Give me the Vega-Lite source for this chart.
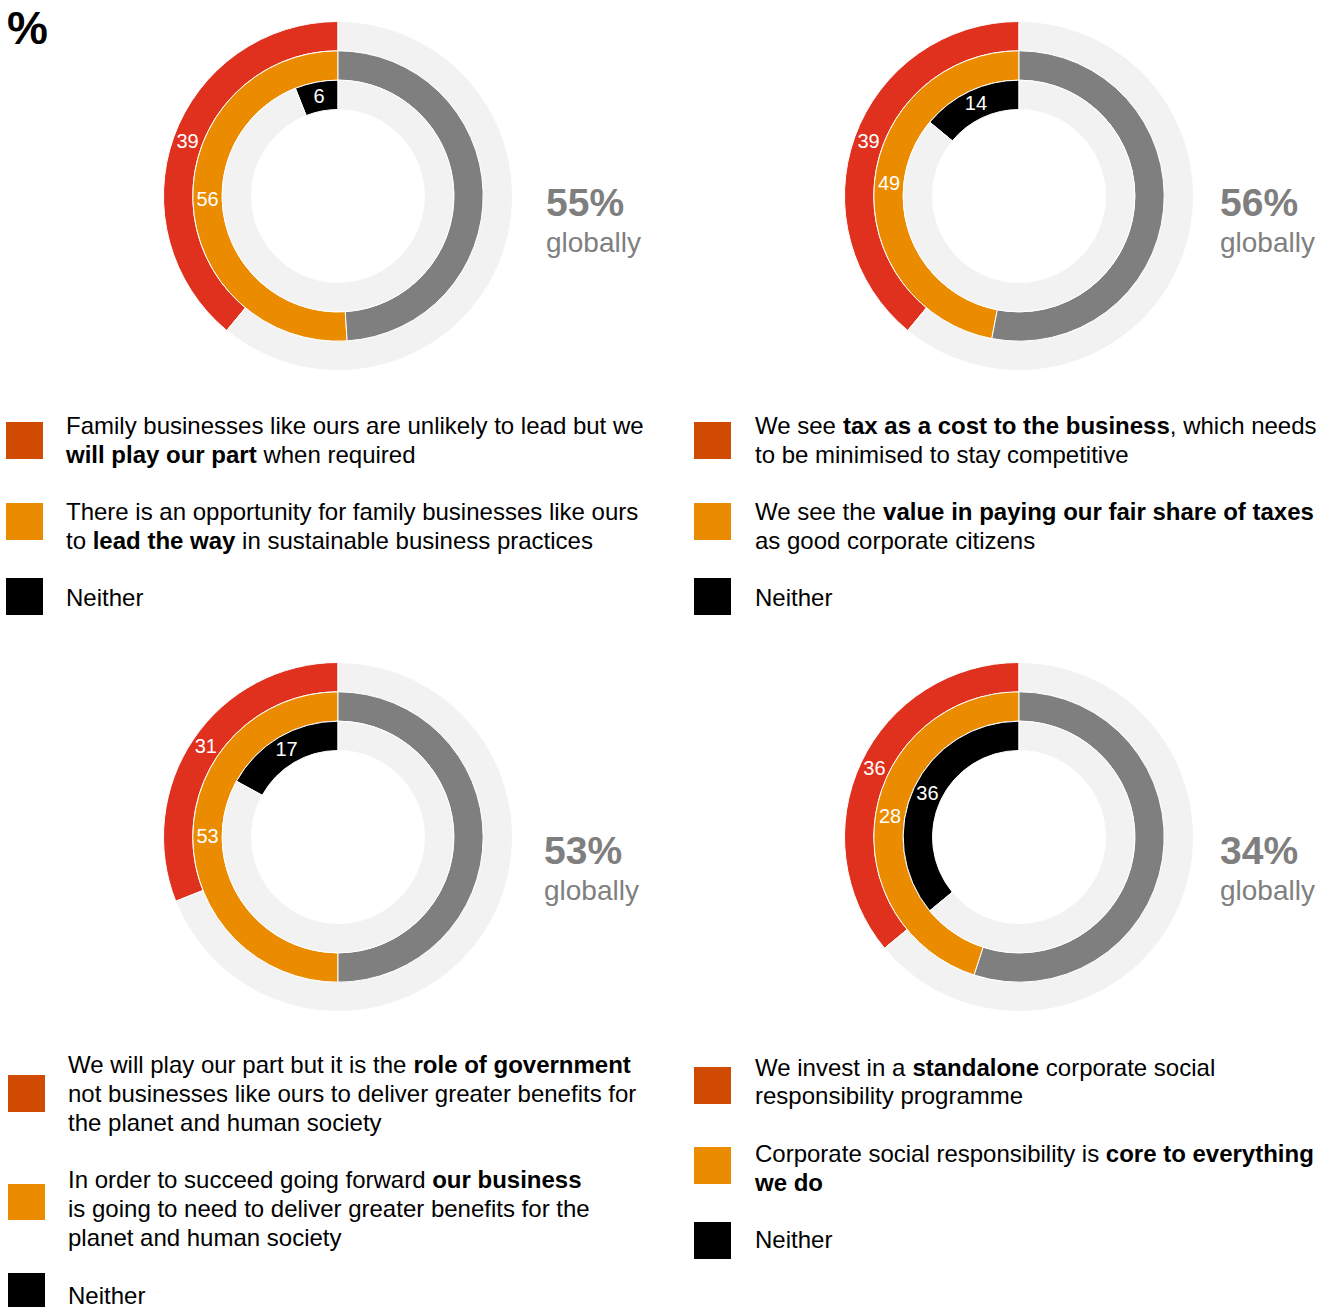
{
  "$schema": "https://vega.github.io/schema/vega-lite/v6.json",
  "width": 1334,
  "height": 1307,
  "autosize": {"type": "fit", "contains": "padding"},
  "padding": 0,
  "background": "#ffffff",
  "config": {
    "view": {"stroke": null},
    "font": "Liberation Sans",
    "text": {"font": "Liberation Sans", "fontSize": 24, "align": "left", "baseline": "alphabetic", "fill": "#000000"}
  },
  "datasets": {
    "rings": [
      {"panel": "P1", "col": 0, "row": 0, "ring": "outer", "seg": "A", "share": 39, "pct": 39},
      {"panel": "P1", "col": 0, "row": 0, "ring": "outer", "seg": "restA", "share": 61},
      {"panel": "P1", "col": 0, "row": 0, "ring": "middle", "seg": "B", "share": 51, "pct": 56},
      {"panel": "P1", "col": 0, "row": 0, "ring": "middle", "seg": "restB", "share": 49},
      {"panel": "P1", "col": 0, "row": 0, "ring": "inner", "seg": "C", "share": 6, "pct": 6},
      {"panel": "P1", "col": 0, "row": 0, "ring": "inner", "seg": "restC", "share": 94},
      {"panel": "P2", "col": 1, "row": 0, "ring": "outer", "seg": "A", "share": 39, "pct": 39},
      {"panel": "P2", "col": 1, "row": 0, "ring": "outer", "seg": "restA", "share": 61},
      {"panel": "P2", "col": 1, "row": 0, "ring": "middle", "seg": "B", "share": 47, "pct": 49},
      {"panel": "P2", "col": 1, "row": 0, "ring": "middle", "seg": "restB", "share": 53},
      {"panel": "P2", "col": 1, "row": 0, "ring": "inner", "seg": "C", "share": 14, "pct": 14},
      {"panel": "P2", "col": 1, "row": 0, "ring": "inner", "seg": "restC", "share": 86},
      {"panel": "P3", "col": 0, "row": 1, "ring": "outer", "seg": "A", "share": 31, "pct": 31},
      {"panel": "P3", "col": 0, "row": 1, "ring": "outer", "seg": "restA", "share": 69},
      {"panel": "P3", "col": 0, "row": 1, "ring": "middle", "seg": "B", "share": 50, "pct": 53},
      {"panel": "P3", "col": 0, "row": 1, "ring": "middle", "seg": "restB", "share": 50},
      {"panel": "P3", "col": 0, "row": 1, "ring": "inner", "seg": "C", "share": 17, "pct": 17},
      {"panel": "P3", "col": 0, "row": 1, "ring": "inner", "seg": "restC", "share": 83},
      {"panel": "P4", "col": 1, "row": 1, "ring": "outer", "seg": "A", "share": 36, "pct": 36},
      {"panel": "P4", "col": 1, "row": 1, "ring": "outer", "seg": "restA", "share": 64},
      {"panel": "P4", "col": 1, "row": 1, "ring": "middle", "seg": "B", "share": 45, "pct": 28},
      {"panel": "P4", "col": 1, "row": 1, "ring": "middle", "seg": "restB", "share": 55},
      {"panel": "P4", "col": 1, "row": 1, "ring": "inner", "seg": "C", "share": 36, "pct": 36},
      {"panel": "P4", "col": 1, "row": 1, "ring": "inner", "seg": "restC", "share": 64}
    ]
  },
  "layer": [
    {
      "data": {"name": "rings"},
      "encoding": {
        "x": {"field": "col", "type": "quantitative", "scale": {"domain": [0, 1], "range": [337, 1018], "zero": false, "nice": false}, "axis": null},
        "y": {"field": "row", "type": "quantitative", "scale": {"domain": [0, 1], "range": [195, 836], "zero": false, "nice": false}, "axis": null},
        "theta": {"field": "share", "type": "quantitative", "stack": true, "scale": {"domain": [0, 100], "range": [6.283185307179586, 0]}},
        "radius": {"field": "ring", "type": "nominal", "scale": {"type": "band", "domain": ["inner", "middle", "outer"], "range": [86.5, 174.5], "paddingInner": 0, "paddingOuter": 0}}
      },
      "layer": [
        {"transform": [{"filter": "datum.panel === 'P1'"}], "mark": {"type": "arc", "stroke": "#ffffff", "strokeWidth": 1},
         "encoding": {"color": {"field": "seg", "type": "nominal", "scale": {"domain": ["A", "B", "C", "restA", "restB", "restC"], "range": ["#e0301e", "#eb8c00", "#000000", "#f2f2f2", "#7f7f7f", "#f2f2f2"]}, "legend": null}, "order": {"field": "seg", "sort": "ascending"}}},
        {"transform": [{"filter": "datum.panel === 'P2'"}], "mark": {"type": "arc", "stroke": "#ffffff", "strokeWidth": 1},
         "encoding": {"color": {"field": "seg", "type": "nominal", "legend": null}, "order": {"field": "seg", "sort": "ascending"}}},
        {"transform": [{"filter": "datum.panel === 'P3'"}], "mark": {"type": "arc", "stroke": "#ffffff", "strokeWidth": 1},
         "encoding": {"color": {"field": "seg", "type": "nominal", "legend": null}, "order": {"field": "seg", "sort": "ascending"}}},
        {"transform": [{"filter": "datum.panel === 'P4'"}], "mark": {"type": "arc", "stroke": "#ffffff", "strokeWidth": 1},
         "encoding": {"color": {"field": "seg", "type": "nominal", "legend": null}, "order": {"field": "seg", "sort": "ascending"}}},
        {"transform": [{"filter": "datum.panel === 'P1' && isValid(datum.pct)"}], "mark": {"type": "text", "fontSize": 20, "fill": "#ffffff", "align": "center", "baseline": "middle"},
         "encoding": {"text": {"field": "pct", "type": "quantitative", "format": "d"}}},
        {"transform": [{"filter": "datum.panel === 'P2' && isValid(datum.pct)"}], "mark": {"type": "text", "fontSize": 20, "fill": "#ffffff", "align": "center", "baseline": "middle"},
         "encoding": {"text": {"field": "pct", "type": "quantitative", "format": "d"}}},
        {"transform": [{"filter": "datum.panel === 'P3' && isValid(datum.pct)"}], "mark": {"type": "text", "fontSize": 20, "fill": "#ffffff", "align": "center", "baseline": "middle"},
         "encoding": {"text": {"field": "pct", "type": "quantitative", "format": "d"}}},
        {"transform": [{"filter": "datum.panel === 'P4' && isValid(datum.pct)"}], "mark": {"type": "text", "fontSize": 20, "fill": "#ffffff", "align": "center", "baseline": "middle"},
         "encoding": {"text": {"field": "pct", "type": "quantitative", "format": "d"}}}
      ]
    },
    {
      "data": {"values": [{}]},
      "layer": [
        {"mark": {"type": "rule", "x": 480, "x2": 646, "y": 171, "stroke": "#b0b0b0", "strokeWidth": 1.5}, "encoding": {}},
        {"mark": {"type": "rule", "x": 1161, "x2": 1321, "y": 171, "stroke": "#b0b0b0", "strokeWidth": 1.5}, "encoding": {}},
        {"mark": {"type": "rule", "x": 481, "x2": 645, "y": 820, "stroke": "#b0b0b0", "strokeWidth": 1.5}, "encoding": {}},
        {"mark": {"type": "rule", "x": 1162, "x2": 1321, "y": 820, "stroke": "#b0b0b0", "strokeWidth": 1.5}, "encoding": {}},

        {"mark": {"type": "text", "x": 6, "y": 43, "text": "%", "fontSize": 46, "fontWeight": "bold"}},

        {"mark": {"type": "text", "x": 545, "y": 215, "text": "55%", "fontSize": 39, "fontWeight": "bold", "fill": "#7f7f7f"}},
        {"mark": {"type": "text", "x": 545, "y": 251, "text": "globally", "fontSize": 28, "fill": "#7f7f7f"}},
        {"mark": {"type": "text", "x": 1219, "y": 215, "text": "56%", "fontSize": 39, "fontWeight": "bold", "fill": "#7f7f7f"}},
        {"mark": {"type": "text", "x": 1219, "y": 251, "text": "globally", "fontSize": 28, "fill": "#7f7f7f"}},
        {"mark": {"type": "text", "x": 543, "y": 863, "text": "53%", "fontSize": 39, "fontWeight": "bold", "fill": "#7f7f7f"}},
        {"mark": {"type": "text", "x": 543, "y": 899, "text": "globally", "fontSize": 28, "fill": "#7f7f7f"}},
        {"mark": {"type": "text", "x": 1219, "y": 863, "text": "34%", "fontSize": 39, "fontWeight": "bold", "fill": "#7f7f7f"}},
        {"mark": {"type": "text", "x": 1219, "y": 899, "text": "globally", "fontSize": 28, "fill": "#7f7f7f"}},

        {"mark": {"type": "rect", "x": 5, "x2": 42, "y": 421, "y2": 458, "fill": "#d04a02"}},
        {"mark": {"type": "rect", "x": 5, "x2": 42, "y": 502, "y2": 539, "fill": "#eb8c00"}},
        {"mark": {"type": "rect", "x": 5, "x2": 42, "y": 577, "y2": 614, "fill": "#000000"}},
        {"mark": {"type": "rect", "x": 693, "x2": 730, "y": 421, "y2": 458, "fill": "#d04a02"}},
        {"mark": {"type": "rect", "x": 693, "x2": 730, "y": 502, "y2": 539, "fill": "#eb8c00"}},
        {"mark": {"type": "rect", "x": 693, "x2": 730, "y": 577, "y2": 614, "fill": "#000000"}},
        {"mark": {"type": "rect", "x": 7, "x2": 44, "y": 1074, "y2": 1111, "fill": "#d04a02"}},
        {"mark": {"type": "rect", "x": 7, "x2": 44, "y": 1183, "y2": 1219, "fill": "#eb8c00"}},
        {"mark": {"type": "rect", "x": 7, "x2": 44, "y": 1272, "y2": 1309, "fill": "#000000"}},
        {"mark": {"type": "rect", "x": 693, "x2": 730, "y": 1066, "y2": 1103, "fill": "#d04a02"}},
        {"mark": {"type": "rect", "x": 693, "x2": 730, "y": 1146, "y2": 1183, "fill": "#eb8c00"}},
        {"mark": {"type": "rect", "x": 693, "x2": 730, "y": 1221, "y2": 1258, "fill": "#000000"}},

        {"mark": {"type": "text", "x": 65, "y": 433, "text": "Family businesses like ours are unlikely to lead but we"}},
        {"mark": {"type": "text", "x": 65, "y": 461.5, "text": "will play our part", "fontWeight": "bold"}},
        {"mark": {"type": "text", "x": 262.4, "y": 461.5, "text": "when required"}},
        {"mark": {"type": "text", "x": 65, "y": 519, "text": "There is an opportunity for family businesses like ours"}},
        {"mark": {"type": "text", "x": 65, "y": 548, "text": "to"}},
        {"mark": {"type": "text", "x": 91.7, "y": 548, "text": "lead the way", "fontWeight": "bold"}},
        {"mark": {"type": "text", "x": 241.1, "y": 548, "text": "in sustainable business practices"}},
        {"mark": {"type": "text", "x": 65, "y": 605, "text": "Neither"}},

        {"mark": {"type": "text", "x": 754, "y": 433, "text": "We see"}},
        {"mark": {"type": "text", "x": 842, "y": 433, "text": "tax as a cost to the business", "fontWeight": "bold"}},
        {"mark": {"type": "text", "x": 1168.8, "y": 433, "text": ", which needs"}},
        {"mark": {"type": "text", "x": 754, "y": 461.5, "text": "to be minimised to stay competitive"}},
        {"mark": {"type": "text", "x": 754, "y": 519, "text": "We see the"}},
        {"mark": {"type": "text", "x": 882.1, "y": 519, "text": "value in paying our fair share of taxes", "fontWeight": "bold"}},
        {"mark": {"type": "text", "x": 754, "y": 548, "text": "as good corporate citizens"}},
        {"mark": {"type": "text", "x": 754, "y": 605, "text": "Neither"}},

        {"mark": {"type": "text", "x": 67, "y": 1072, "text": "We will play our part but it is the"}},
        {"mark": {"type": "text", "x": 412.5, "y": 1072, "text": "role of government", "fontWeight": "bold"}},
        {"mark": {"type": "text", "x": 67, "y": 1101, "text": "not businesses like ours to deliver greater benefits for"}},
        {"mark": {"type": "text", "x": 67, "y": 1130, "text": "the planet and human society"}},
        {"mark": {"type": "text", "x": 67, "y": 1187, "text": "In order to succeed going forward"}},
        {"mark": {"type": "text", "x": 431.2, "y": 1187, "text": "our business", "fontWeight": "bold"}},
        {"mark": {"type": "text", "x": 67, "y": 1216, "text": "is going to need to deliver greater benefits for the"}},
        {"mark": {"type": "text", "x": 67, "y": 1245, "text": "planet and human society"}},
        {"mark": {"type": "text", "x": 67, "y": 1302.5, "text": "Neither"}},

        {"mark": {"type": "text", "x": 754, "y": 1075, "text": "We invest in a"}},
        {"mark": {"type": "text", "x": 911.4, "y": 1075, "text": "standalone", "fontWeight": "bold"}},
        {"mark": {"type": "text", "x": 1044.8, "y": 1075, "text": "corporate social"}},
        {"mark": {"type": "text", "x": 754, "y": 1103, "text": "responsibility programme"}},
        {"mark": {"type": "text", "x": 754, "y": 1161, "text": "Corporate social responsibility is"}},
        {"mark": {"type": "text", "x": 1104.8, "y": 1161, "text": "core to everything", "fontWeight": "bold"}},
        {"mark": {"type": "text", "x": 754, "y": 1190, "text": "we do", "fontWeight": "bold"}},
        {"mark": {"type": "text", "x": 754, "y": 1247, "text": "Neither"}}
      ]
    }
  ]
}
